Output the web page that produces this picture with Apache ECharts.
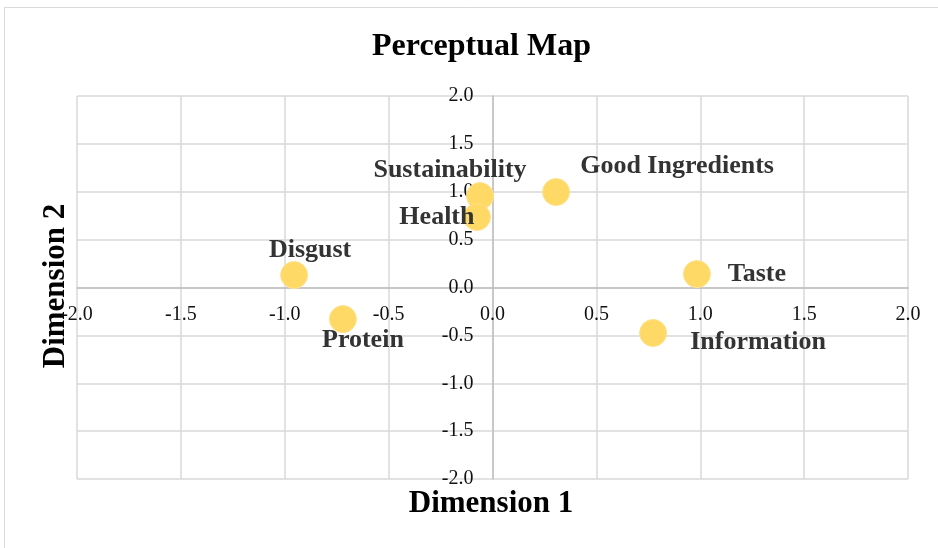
<!DOCTYPE html>
<html>
<head>
<meta charset="utf-8">
<script src="https://cdn.jsdelivr.net/npm/echarts@6/dist/echarts.min.js"></script>
<style>
  html, body { margin: 0; padding: 0; background: #fff; }
  #chart { width: 938px; height: 548px; }
</style>
</head>
<body>
<div id="chart"></div>
<script>
// perceptual map values
var attributes = ['Sustainability', 'Health', 'Disgust', 'Protein', 'Good Ingredients', 'Taste', 'Information'];
var dimension1 = [-0.06, -0.075, -0.955, -0.72, 0.306, 0.984, 0.773];
var dimension2 = [0.955, 0.736, 0.13, -0.33, 0.997, 0.14, -0.475];

// where each label sits relative to its point (px)
var labelOffsets = [[-30, -26], [-40, 0], [16, -25], [20, 21], [121, -26], [60, 0], [105, 9]];

var serif = "'Liberation Serif', 'Times New Roman', serif";

// grid box; axes cross in the middle of it
var gridLeft = 77, gridRight = 30, gridTop = 96, gridBottom = 69;
var plotW = 938 - gridLeft - gridRight;
var plotH = 548 - gridTop - gridBottom;

var points = [];
for (var i = 0; i < attributes.length; i++) {
  points.push({
    name: attributes[i],
    value: [dimension1[i], dimension2[i]],
    label: { offset: labelOffsets[i] }
  });
}

var mychart = echarts.init(document.getElementById('chart'));
var option = {
  animation: false,
  grid: {
    left: gridLeft,
    right: gridRight,
    top: gridTop,
    bottom: gridBottom
  },
  graphic: [
    {
      type: 'rect',
      z: -10,
      shape: { x: 4.5, y: 7.5, width: 1000, height: 1000 },
      style: { fill: 'none', stroke: '#d9d9d9', lineWidth: 1 }
    },
    {
      type: 'text',
      x: 481.5,
      y: 47,
      style: {
        text: 'Perceptual Map',
        font: 'bold 32px ' + serif,
        fill: '#000',
        textAlign: 'center',
        textVerticalAlign: 'middle'
      }
    },
    {
      type: 'text',
      x: 491,
      y: 504,
      style: {
        text: 'Dimension 1',
        font: 'bold 31px ' + serif,
        fill: '#000',
        textAlign: 'center',
        textVerticalAlign: 'middle'
      }
    },
    {
      type: 'text',
      x: 56,
      y: 286,
      rotation: Math.PI / 2,
      style: {
        text: 'Dimension 2',
        font: 'bold 31px ' + serif,
        fill: '#000',
        textAlign: 'center',
        textVerticalAlign: 'middle'
      }
    }
  ],
  xAxis: {
    type: 'value',
    min: -2,
    max: 2,
    interval: 0.5,
    offset: -plotH / 2,
    axisLine: { onZero: false, lineStyle: { color: '#bfbfbf', width: 1.5 } },
    axisTick: { show: false },
    axisLabel: {
      margin: 17,
      color: '#111',
      fontFamily: serif,
      fontSize: 20,
      formatter: function (v) { return v.toFixed(1); }
    },
    splitLine: { show: true, lineStyle: { color: '#d9d9d9', width: 1.5 } }
  },
  yAxis: {
    type: 'value',
    min: -2,
    max: 2,
    interval: 0.5,
    offset: -plotW / 2,
    axisLine: { onZero: false, lineStyle: { color: '#bfbfbf', width: 1.5 } },
    axisTick: { show: false },
    axisLabel: {
      margin: 19,
      color: '#111',
      fontFamily: serif,
      fontSize: 20,
      formatter: function (v) { return v.toFixed(1); }
    },
    splitLine: { show: true, lineStyle: { color: '#d9d9d9', width: 1.5 } }
  },
  series: [
    {
      type: 'scatter',
      symbolSize: 27,
      itemStyle: {
        color: '#ffd966',
        opacity: 1,
        borderColor: '#ffe08c',
        borderWidth: 1
      },
      label: {
        show: true,
        position: 'inside',
        formatter: '{b}',
        color: '#333',
        fontFamily: serif,
        fontWeight: 'bold',
        fontSize: 26
      },
      data: points
    }
  ]
};
mychart.setOption(option);
window.onresize = mychart.resize;
</script>
</body>
</html>
